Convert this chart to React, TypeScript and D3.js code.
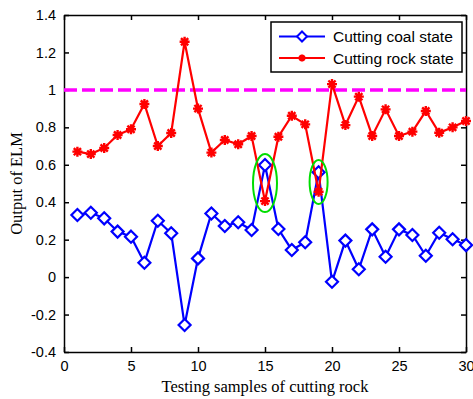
import { useEffect, useRef } from "react";
import * as d3 from "d3";

const samples = d3.range(1, 31);
const coalState = [0.332, 0.344, 0.314, 0.243, 0.216, 0.077, 0.301, 0.234, -0.256, 0.10,
  0.34, 0.273, 0.293, 0.252, 0.599, 0.257, 0.145, 0.186, 0.56, -0.025,
  0.195, 0.042, 0.255, 0.109, 0.255, 0.225, 0.114, 0.237, 0.202, 0.171];
const rockState = [0.67, 0.657, 0.69, 0.759, 0.79, 0.925, 0.70, 0.77, 1.257, 0.90,
  0.665, 0.732, 0.71, 0.754, 0.406, 0.75, 0.862, 0.816, 0.456, 1.031,
  0.812, 0.964, 0.754, 0.896, 0.754, 0.777, 0.887, 0.771, 0.80, 0.834];
const xTicks = [0, 5, 10, 15, 20, 25, 30];
const yTicks = [-0.4, -0.2, 0, 0.2, 0.4, 0.6, 0.8, 1, 1.2, 1.4];
const threshold = 1;
const circled = [15, 19];
const legendLabels = ["Cutting coal state", "Cutting rock state"];

export default function App() {
  const ref = useRef<SVGSVGElement>(null);

  useEffect(() => {
    const width = 473;
    const height = 399;
    const margin = { top: 15, right: 7, bottom: 47, left: 64 };

    const svg = d3.select(ref.current);
    svg.selectAll("*").remove();

    const x = d3.scaleLinear([0, 30], [margin.left, width - margin.right]);
    const y = d3.scaleLinear([-0.4, 1.4], [height - margin.bottom, margin.top]);

    const font = "'Liberation Sans', Arial, sans-serif";
    const serif = "'Liberation Serif', 'Times New Roman', serif";

    svg.append("rect")
      .attr("x", margin.left).attr("y", margin.top)
      .attr("width", x(30) - x(0)).attr("height", y(-0.4) - y(1.4))
      .attr("fill", "white");

    // axes, matlab style with inward ticks
    const fmt = (d: any) => String(+d.toFixed(1));
    const axes = [
      d3.axisBottom(x).tickValues(xTicks).tickSizeInner(-5).tickSizeOuter(0).tickPadding(9).tickFormat(fmt),
      d3.axisTop(x).tickValues(xTicks).tickSizeInner(-5).tickSizeOuter(0).tickFormat(() => ""),
      d3.axisLeft(y).tickValues(yTicks).tickSizeInner(-5).tickSizeOuter(0).tickPadding(8).tickFormat(fmt),
      d3.axisRight(y).tickValues(yTicks).tickSizeInner(-5).tickSizeOuter(0).tickFormat(() => ""),
    ];
    const pos = [
      `translate(0,${y(-0.4)})`,
      `translate(0,${y(1.4)})`,
      `translate(${x(0)},0)`,
      `translate(${x(30)},0)`,
    ];
    axes.forEach((ax: any, i) => {
      const g = svg.append("g").attr("transform", pos[i]).call(ax);
      g.selectAll("path, line").attr("stroke", "#000").attr("stroke-width", 1.5);
      g.selectAll("text").attr("fill", "#000").style("font-family", font).style("font-size", "14.5px");
    });

    // threshold line
    svg.append("line")
      .attr("x1", x(0)).attr("x2", x(30))
      .attr("y1", y(threshold)).attr("y2", y(threshold))
      .attr("stroke", "#ff00ff").attr("stroke-width", 3.5)
      .attr("stroke-dasharray", "13,5");

    const line = d3.line<number>().x((d, i) => x(samples[i])).y(d => y(d));

    const diamond = (cx: number, cy: number, r: number) =>
      `M${cx},${cy - r}L${cx + r},${cy}L${cx},${cy + r}L${cx - r},${cy}Z`;
    const star = (cx: number, cy: number, r: number) => {
      const d = r * 0.72;
      return `M${cx},${cy - r}L${cx},${cy + r}M${cx - r},${cy}L${cx + r},${cy}` +
        `M${cx - d},${cy - d}L${cx + d},${cy + d}M${cx - d},${cy + d}L${cx + d},${cy - d}`;
    };

    // coal series
    svg.append("path").datum(coalState)
      .attr("fill", "none").attr("stroke", "#0000ff").attr("stroke-width", 2.2)
      .attr("d", line);
    svg.append("g").selectAll("path").data(coalState).join("path")
      .attr("d", (d, i) => diamond(x(samples[i]), y(d), 6))
      .attr("fill", "white").attr("stroke", "#0000ff").attr("stroke-width", 2.2);

    // rock series
    svg.append("path").datum(rockState)
      .attr("fill", "none").attr("stroke", "#ff0000").attr("stroke-width", 2.2)
      .attr("d", line);
    svg.append("g").selectAll("path").data(rockState).join("path")
      .attr("d", (d, i) => star(x(samples[i]), y(d), 5))
      .attr("fill", "none").attr("stroke", "#ff0000").attr("stroke-width", 2.4);

    // green ellipses around misclassified samples
    const rx = [12, 9];
    const ry = [29, 22];
    svg.append("g").selectAll("ellipse").data(circled).join("ellipse")
      .attr("cx", d => x(d))
      .attr("cy", d => (y(coalState[d - 1]) + y(rockState[d - 1])) / 2)
      .attr("rx", (d, i) => rx[i]).attr("ry", (d, i) => ry[i])
      .attr("fill", "none").attr("stroke", "#00dd00").attr("stroke-width", 2);

    // legend
    const lg = svg.append("g").attr("transform", "translate(271,22)");
    lg.append("rect").attr("width", 191).attr("height", 50)
      .attr("fill", "white").attr("stroke", "#000").attr("stroke-width", 1.5);
    legendLabels.forEach((label, i) => {
      const ly = 14.5 + i * 21.5;
      const color = i === 0 ? "#0000ff" : "#ff0000";
      lg.append("line").attr("x1", 8).attr("x2", 54).attr("y1", ly).attr("y2", ly)
        .attr("stroke", color).attr("stroke-width", 2.2);
      if (i === 0) {
        lg.append("path").attr("d", diamond(31, ly, 5))
          .attr("fill", "white").attr("stroke", color).attr("stroke-width", 2);
      } else {
        lg.append("path").attr("d", star(31, ly, 3.5))
          .attr("fill", "none").attr("stroke", color).attr("stroke-width", 2.4);
      }
      lg.append("text").attr("x", 62).attr("y", ly + 5.5)
        .text(label)
        .style("font-family", font).style("font-size", "15.5px");
    });

    // axis titles
    svg.append("text")
      .attr("x", (x(0) + x(30)) / 2).attr("y", 392)
      .attr("text-anchor", "middle")
      .style("font-family", serif).style("font-size", "16.5px")
      .text("Testing samples of cutting rock");

    svg.append("text")
      .attr("transform", `translate(22,${(y(-0.4) + y(1.4)) / 2}) rotate(-90)`)
      .attr("text-anchor", "middle")
      .style("font-family", serif).style("font-size", "16.5px")
      .text("Output of ELM");
  }, []);

  return (
    <svg ref={ref} width={473} height={399}
      style={{ position: "absolute", left: 0, top: 0, background: "white" }} />
  );
}
